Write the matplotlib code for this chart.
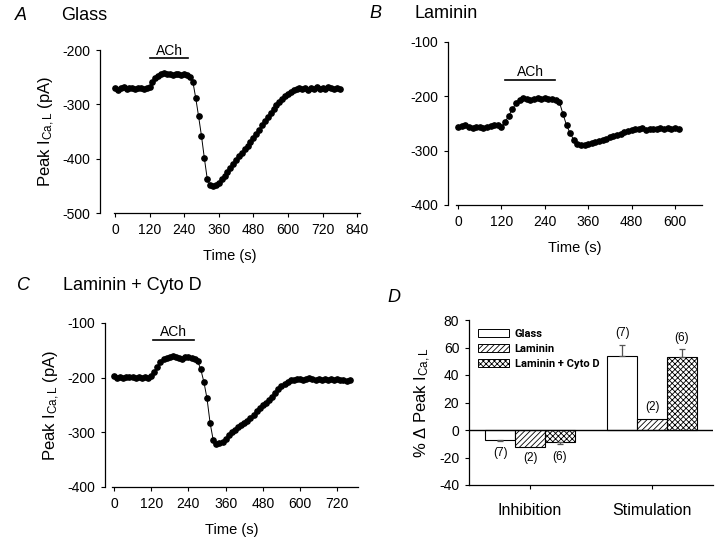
import numpy as np
import matplotlib
matplotlib.use("Agg")
import matplotlib.pyplot as plt
from matplotlib.patches import Patch
from matplotlib.font_manager import FontProperties

plt.rcParams['font.family'] = ['Liberation Sans', 'DejaVu Sans']
plt.rcParams['mathtext.fontset'] = 'custom'
plt.rcParams['mathtext.rm'] = 'Liberation Sans'
plt.rcParams['mathtext.it'] = 'Liberation Sans:italic'
plt.rcParams['axes.unicode_minus'] = False
plt.rcParams['hatch.linewidth'] = 0.6

# ---------------- data ----------------
# Panel A: Glass (sampled every 10 s, 0..780 s)
glass_t = np.arange(0, 790, 10)
glass_i = [-270, -273, -270, -269, -271, -270, -270, -271, -270, -270, -271, -270,
           -268, -258, -251, -247, -244, -242, -245, -244, -246, -244, -245, -246,
           -244, -246, -249, -258, -288, -322, -358, -399, -437, -449, -451, -448,
           -444, -438, -432, -425, -418, -410, -402, -396, -389, -382, -376, -369,
           -362, -355, -347, -338, -331, -324, -316, -309, -302, -296, -290, -285,
           -281, -277, -273, -271, -270, -272, -270, -273, -270, -271, -269, -271,
           -270, -272, -269, -270, -271, -270, -272]

# Panel B: Laminin (0..610 s)
lam_t = np.arange(0, 620, 10)
lam_i = [-256, -255, -253, -256, -258, -256, -257, -258, -256, -255, -253, -252,
         -256, -247, -236, -224, -213, -206, -203, -204, -206, -204, -203, -204,
         -203, -204, -205, -207, -210, -232, -253, -268, -280, -288, -290, -289,
         -288, -286, -284, -282, -280, -278, -275, -273, -272, -270, -266, -264,
         -262, -260, -261, -259, -262, -261, -260, -261, -259, -260, -259, -261,
         -259, -260]

# Panel C: Laminin + Cyto D (0..760 s)
cyto_t = np.arange(0, 770, 10)
cyto_i = [-197, -200, -198, -201, -198, -199, -199, -200, -199, -200, -199, -200,
          -197, -190, -180, -172, -165, -164, -162, -161, -163, -164, -165, -163,
          -162, -164, -165, -170, -185, -208, -238, -283, -314, -322, -320, -317,
          -312, -305, -299, -295, -291, -287, -283, -279, -274, -268, -261, -255,
          -250, -246, -241, -235, -228, -221, -216, -212, -208, -205, -204, -202,
          -203, -204, -202, -201, -203, -204, -203, -204, -203, -205, -203, -204,
          -202, -205, -204, -206, -204]

# ACh application periods (s)
ach_A = (122, 255)
ach_B = (131, 269)
ach_C = (126, 259)

# Panel D: % change in peak ICa,L
groups = ['Inhibition', 'Stimulation']
conditions = ['Glass', 'Laminin', 'Laminin + Cyto D']
inhib_vals = [-7, -12, -9]
inhib_err = [1, 0, 1]
stim_vals = [54, 8, 53]
stim_err = [8, 0, 6]
inhib_n = ['(7)', '(2)', '(6)']
stim_n = ['(7)', '(2)', '(6)']
inhib_n_y = [-16.7, -20.4, -19.6]
stim_n_y = [70.5, 16.7, 67]

# ---------------- figure ----------------
W, H = 720, 545
fig = plt.figure(figsize=(W / 100, H / 100), dpi=100)


def px_axes(left, top, right, bottom):
    return fig.add_axes([left / W, 1 - bottom / H, (right - left) / W, (bottom - top) / H])


def style(ax):
    ax.spines['top'].set_visible(False)
    ax.spines['right'].set_visible(False)
    ax.tick_params(direction='out', length=3, width=0.8, labelsize=10, pad=4)
    for s in ('left', 'bottom'):
        ax.spines[s].set_linewidth(0.9)


def trace_panel(ax, t, v, xlim, ylim, xticks, yticks, ach, ach_y, txt_y, ylabel=True):
    ax.plot(t, v, '-', color='black', lw=0.7, marker='o', ms=3.8, mfc='black', mec='black')
    ax.set_xlim(*xlim)
    ax.set_ylim(*ylim)
    ax.set_xticks(xticks)
    ax.set_yticks(yticks)
    style(ax)
    ax.spines['bottom'].set_bounds(-5, xlim[1])
    ax.plot(ach, [ach_y, ach_y], color='black', lw=1.2, clip_on=False)
    ax.text(np.mean(ach), txt_y, 'ACh', ha='center', va='center', fontsize=10, clip_on=False)
    ax.set_xlabel('Time (s)', fontsize=10.5, labelpad=9)
    if ylabel:
        ax.set_ylabel(r'Peak I$_{\rm Ca,L}$ (pA)', fontsize=12, labelpad=4)


axA = px_axes(100, 50, 360, 213)
trace_panel(axA, glass_t, glass_i, (-52, 850), (-500, -200), range(0, 841, 120),
            range(-500, -199, 100), ach_A, -214, -201)

axB = px_axes(448, 42, 702, 205)
trace_panel(axB, lam_t, lam_i, (-28, 675), (-400, -100), range(0, 601, 120),
            range(-400, -99, 100), ach_B, -170, -155, ylabel=False)

axC = px_axes(105, 323, 358, 487)
trace_panel(axC, cyto_t, cyto_i, (-29, 787), (-400, -100), range(0, 721, 120),
            range(-400, -99, 100), ach_C, -132, -117)

# Panel D
axD = px_axes(469, 320, 713, 485)
w = 0.244
hatches = [None, '//////', 'xxxxxx']
centers = [1, 2]
for gi, (vals, errs, ns, nys) in enumerate([(inhib_vals, inhib_err, inhib_n, inhib_n_y),
                                            (stim_vals, stim_err, stim_n, stim_n_y)]):
    for ci in range(3):
        x = centers[gi] + (ci - 1) * w
        v = vals[ci]
        axD.bar(x, v, width=w, color='white', edgecolor='black', hatch=hatches[ci],
                linewidth=0.8, zorder=2)
        if errs[ci] > 0:
            axD.errorbar(x, v, yerr=[[0], [errs[ci]]] if v > 0 else [[errs[ci]], [0]],
                         fmt='none', ecolor='#555555', elinewidth=0.9, capsize=2.5,
                         capthick=0.9, zorder=3)
        axD.text(x, nys[ci], ns[ci], ha='center', va='center', fontsize=8.5)

axD.axhline(0, color='black', lw=1.0, zorder=4)
axD.set_xlim(0.5, 2.5)
axD.set_ylim(-40, 80)
axD.set_yticks(range(-40, 81, 20))
axD.set_xticks(centers)
axD.set_xticklabels(groups)
style(axD)
axD.tick_params(axis='x', pad=10, labelsize=11.5)
axD.set_ylabel('% Δ Peak I$_{\\rm Ca,L}$', fontsize=12, labelpad=4)

handles = [Patch(facecolor='white', edgecolor='black', hatch=h, linewidth=0.7) for h in hatches]
legprop = FontProperties(family=['Roboto', 'DejaVu Sans'], weight='bold', style='normal', size=8)
axD.legend(handles, conditions, loc='upper left', bbox_to_anchor=(0.0, 1.0),
           frameon=False, handlelength=2.8, handleheight=0.6,
           labelspacing=0.45, handletextpad=0.5, borderaxespad=0.4, prop=legprop)


def label(x, y, letter, title):
    fig.text(x / W, 1 - y / H, letter, fontsize=13, style='italic', ha='left', va='center')
    if title:
        fig.text((x + 46) / W, 1 - y / H, title, fontsize=13, ha='left', va='center')


label(15, 15, 'A', 'Glass')
label(369, 13, 'B', 'Laminin')
label(17, 285, 'C', 'Laminin + Cyto D')
label(387, 297, 'D', None)

fig.savefig('out.png', dpi=100)
